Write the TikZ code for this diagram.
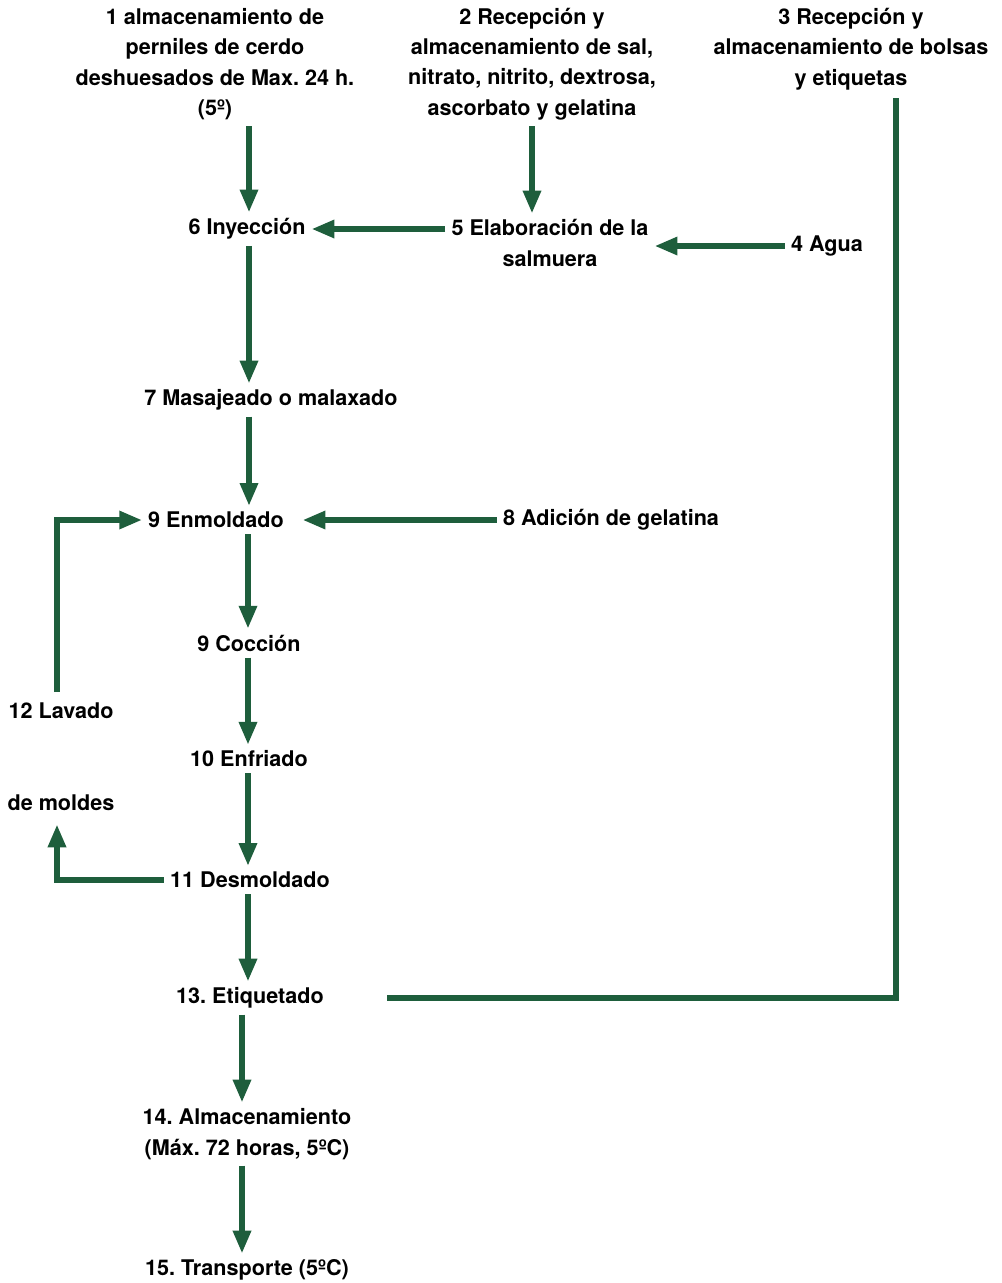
\documentclass[tikz,border=0pt]{standalone}
\usepackage{fontspec}
\setmainfont{TeX Gyre Heros}
\usetikzlibrary{arrows.meta}
\definecolor{fgreen}{RGB}{30,94,60}
\frenchspacing
\begin{document}
\begin{tikzpicture}[x=0.75pt,y=-0.75pt,
  lbl/.style={inner sep=0pt, align=center, font=\bfseries\fontsize{16.2}{22.8}\selectfont},
  arr/.style={line width=3.9pt, draw=fgreen, -{Triangle[length=17pt,width=13pt]}, shorten <=4.5pt, shorten >=4.5pt},
  flow/.style={line width=4.2pt, draw=fgreen}]
\useasboundingbox (0,0) rectangle (1002,1283);
% column positions for the vertical connectors
\coordinate (colA) at (249,0);
\coordinate (colB) at (532,0);
\coordinate (colC) at (248,0);
\coordinate (colD) at (242,0);
\coordinate (colR) at (896,0);
\coordinate (colL) at (57,0);

% process steps
\node[lbl] (n1) at (215,64) {1 almacenamiento de\\perniles de cerdo\\deshuesados de Max. 24 h.\\(5º)};
\node[lbl] (n2) at (532,64) {2 Recepción y\\almacenamiento de sal,\\nitrato, nitrito, dextrosa,\\ascorbato y gelatina};
\node[lbl] (n3) at (851,49) {3 Recepción y\\almacenamiento de bolsas\\y etiquetas};
\node[lbl] (n6) at (247,229) {6 Inyección};
\node[lbl] (n5) at (550,243) {5 Elaboración de la\\salmuera};
\node[lbl] (n4) at (827,246) {4 Agua};
\node[lbl] (n7) at (271,400) {7 Masajeado o malaxado};
\node[lbl] (n9) at (216,520) {9 Enmoldado};
\node[lbl] (n8) at (611,520) {8 Adición de gelatina};
\node[lbl] (n9b) at (249,643) {9 Cocción};
\node[lbl] (n12) at (61,711) {12 Lavado};
\node[lbl] (n10) at (249,759) {10 Enfriado};
\node[lbl] (nmol) at (61,803) {de moldes};
\node[lbl] (n11) at (250,880) {11 Desmoldado};
\node[lbl] (n13) at (250,998) {13. Etiquetado};
\node[lbl] (n14) at (247,1134) {14. Almacenamiento\\(Máx. 72 horas, 5ºC)};
\node[lbl] (n15) at (247,1270) {15. Transporte (5ºC)};

% connectors
\draw[arr] (n1.south -| colA) -- (n6.north -| colA);
\draw[arr] (n2.south -| colB) -- (n5.north -| colB);
\draw[arr] (n5.west |- n6.east) -- (n6.east);
\draw[arr] (n4.west) -- (n4.west -| n5.east);
\draw[arr] (n6.south -| colA) -- (n7.north -| colA);
\draw[arr] (n7.south -| colA) -- (n9.north -| colA);
\draw[arr, shorten >=14pt] (n8.west) -- (n9.east);
\draw[arr, shorten <=8pt] (n12.north -| colL) |- (n9.west);
\draw[arr] (n9.south -| colC) -- (n9b.north -| colC);
\draw[arr] (n9b.south -| colC) -- (n10.north -| colC);
\draw[arr] (n10.south -| colC) -- (n11.north -| colC);
\draw[arr, shorten >=10pt] (n11.west) -| (nmol.south -| colL);
\draw[arr] (n11.south -| colC) -- (n13.north -| colC);
\draw[arr] (n13.south -| colD) -- (n14.north -| colD);
\draw[arr] (n14.south -| colD) -- (n15.north -| colD);
\draw[flow, shorten <=6pt, shorten >=47pt] (n3.south -| colR) |- (n13.east);
\end{tikzpicture}
\end{document}
